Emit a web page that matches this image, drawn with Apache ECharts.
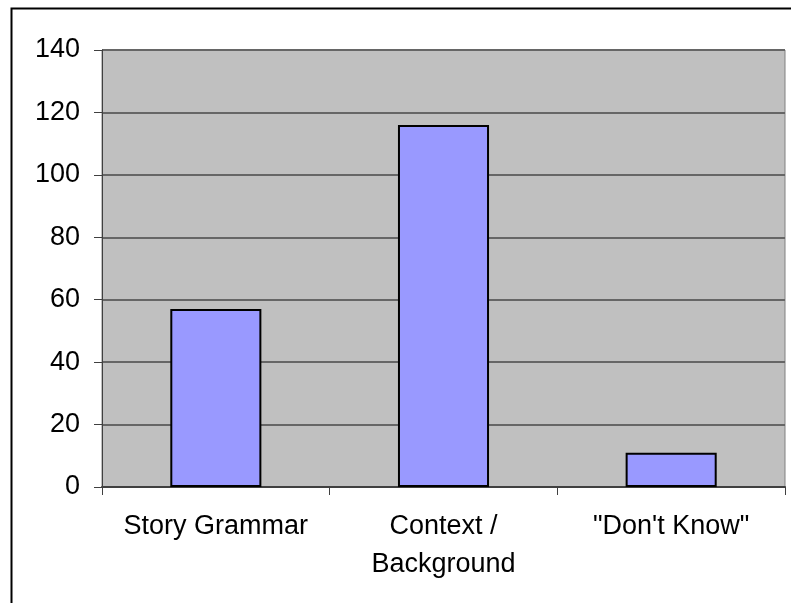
<!DOCTYPE html>
<html>
<head>
<meta charset="utf-8">
<script src="https://cdn.jsdelivr.net/npm/echarts@6/dist/echarts.min.js"></script>
<style>
  html, body { margin: 0; padding: 0; background: #fff; }
  #chart { width: 791px; height: 603px; }
</style>
</head>
<body>
<div id="chart"></div>
<script>
// Response categories and their counts
const categories = ['Story Grammar', 'Context /\nBackground', '"Don\'t Know"'];
const counts = [57, 116, 11];
const yTicks = { min: 0, max: 140, interval: 20 };

const font = '"Liberation Sans", Arial, sans-serif';
const chart = echarts.init(document.getElementById('chart'), null, { renderer: 'canvas' });

chart.setOption({
  animation: false,
  backgroundColor: '#ffffff',
  graphic: [{
    type: 'rect',
    left: 9, top: 6,
    shape: { x: 0, y: 0, width: 820, height: 640 },
    style: { fill: 'none', stroke: '#000', lineWidth: 2 },
    z: 100
  }],
  grid: {
    left: 102, right: 6, top: 50, bottom: 116,
    show: true,
    backgroundColor: '#C0C0C0',
    borderColor: '#808080',
    borderWidth: 1
  },
  xAxis: {
    type: 'category',
    data: categories,
    axisLine: { lineStyle: { color: '#404040', width: 2 } },
    axisTick: { show: true, length: 8, lineStyle: { color: '#404040', width: 1 } },
    axisLabel: {
      color: '#000', fontFamily: font, fontSize: 27, lineHeight: 38,
      margin: 21, interval: 0
    },
    splitLine: { show: false }
  },
  yAxis: {
    type: 'value',
    min: yTicks.min, max: yTicks.max, interval: yTicks.interval,
    axisLine: { show: true, lineStyle: { color: '#404040', width: 1 } },
    axisTick: { show: true, length: 8, lineStyle: { color: '#404040', width: 1 } },
    axisLabel: { color: '#000', fontFamily: font, fontSize: 27, margin: 22 },
    splitLine: { show: true, lineStyle: { color: '#666666', width: 2 } }
  },
  series: [{
    type: 'bar',
    data: counts,
    barWidth: '40%',
    itemStyle: { color: '#9999FF', borderColor: '#000', borderWidth: 2 }
  }]
});
</script>
</body>
</html>
